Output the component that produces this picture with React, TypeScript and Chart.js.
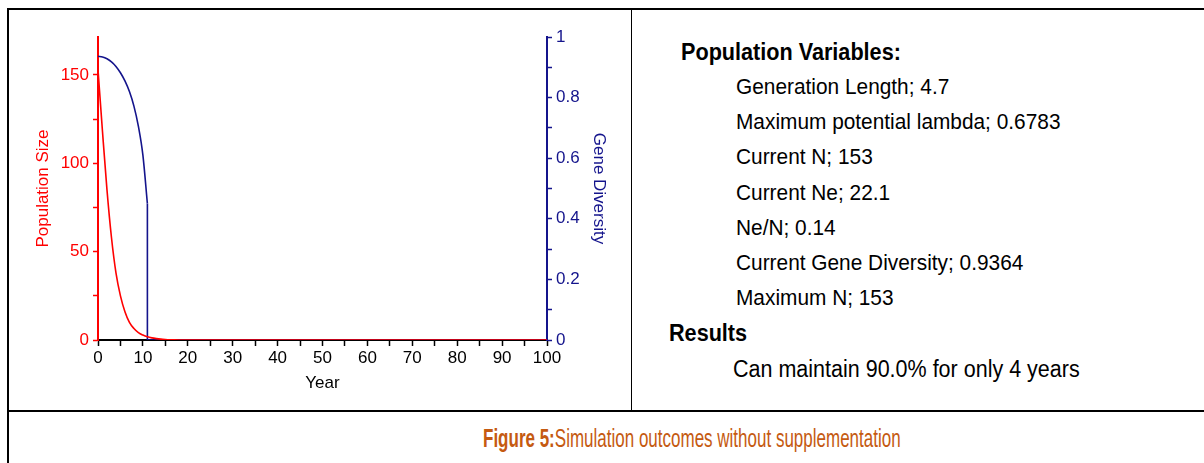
import React, { useEffect, useRef } from 'react';
import { Chart, registerables } from 'chart.js';

Chart.register(...registerables);

// ---- Data ----
const popYears = [0, 1, 2, 3, 4, 5, 6, 7, 8, 9, 10, 11, 12, 13, 14, 15, 16, 17, 18, 100];
const popSize = [153, 118, 85, 58, 38, 25, 16, 10, 6.5, 4.2, 2.8, 1.8, 1.2, 0.8, 0.5, 0.3, 0.15, 0.05, 0, 0];

const geneYears = [0, 1, 2, 3, 4, 5, 6, 7, 8, 9, 10, 11];
const geneDiv = [0.9364, 0.934, 0.928, 0.918, 0.903, 0.882, 0.855, 0.82, 0.772, 0.705, 0.61, 0.45];
// extinction: diversity drops to zero at year 11 and stays there
const geneTailYears = [11, 11, 100];
const geneTailDiv = [0.45, 0, 0];

const xTickStep = 5;
const xLabelEvery = 10;
const popTickStep = 25;
const popLabelEvery = 50;
const popMax = 171.5;
const geneTickStep = 0.1;

const variableLines = [
  'Generation Length; 4.7',
  'Maximum potential lambda; 0.6783',
  'Current N; 153',
  'Current Ne; 22.1',
  'Ne/N; 0.14',
  'Current Gene Diversity; 0.9364',
  'Maximum N; 153',
];
const resultLine = 'Can maintain 90.0% for only 4 years';

const RED = '#ff0000';
const NAVY = '#14148c';
const FONT = '"Liberation Sans", Arial, Helvetica, sans-serif';

const toPoints = (xs: number[], ys: number[]) => xs.map((x, i) => ({ x, y: ys[i] }));

function ChartPanel() {
  const ref = useRef<HTMLCanvasElement | null>(null);
  useEffect(() => {
    if (!ref.current) return;
    Chart.defaults.font.family = FONT;
    const chart = new Chart(ref.current, {
      type: 'line',
      data: {
        datasets: [
          {
            label: 'Population Size',
            data: toPoints(popYears, popSize),
            yAxisID: 'y',
            borderColor: RED,
            borderWidth: 1.6,
            pointRadius: 0,
            cubicInterpolationMode: 'monotone',
            fill: false,
          },
          {
            label: 'Gene Diversity',
            data: toPoints(geneYears, geneDiv),
            yAxisID: 'y1',
            borderColor: NAVY,
            borderWidth: 1.6,
            pointRadius: 0,
            cubicInterpolationMode: 'monotone',
            fill: false,
          },
          {
            label: 'Gene Diversity (extinct)',
            data: toPoints(geneTailYears, geneTailDiv),
            yAxisID: 'y1',
            borderColor: NAVY,
            borderWidth: 1.6,
            pointRadius: 0,
            tension: 0,
            fill: false,
          },
        ],
      },
      options: {
        animation: false,
        responsive: false,
        devicePixelRatio: 1,
        layout: { padding: { top: 27, left: 0, right: 0, bottom: 0 } },
        plugins: { legend: { display: false }, tooltip: { enabled: false } },
        scales: {
          x: {
            type: 'linear',
            position: 'bottom',
            min: 0,
            max: 100,
            afterFit: (s: any) => { s.height = 70; },
            ticks: {
              stepSize: xTickStep,
              autoSkip: false,
              maxRotation: 0,
              padding: 2,
              color: '#000',
              font: { size: 17 },
              callback: (v: any) => (Math.round(v) % xLabelEvery === 0 ? String(v) : ''),
            },
            grid: { drawOnChartArea: false, drawTicks: true, tickLength: 6, tickColor: '#000', tickWidth: 1.5 },
            border: { color: '#000', width: 2 },
            title: { display: true, text: 'Year', color: '#000', font: { size: 17 }, padding: { top: 0, bottom: 16 } },
          },
          y: {
            type: 'linear',
            position: 'left',
            min: 0,
            max: popMax,
            afterFit: (s: any) => { s.width = 88; },
            ticks: {
              stepSize: popTickStep,
              includeBounds: false,
              autoSkip: false,
              padding: 4,
              color: RED,
              font: { size: 17 },
              callback: (v: any) => (Math.round(v) % popLabelEvery === 0 ? String(v) : ''),
            },
            grid: { drawOnChartArea: false, drawTicks: true, tickLength: 5, tickColor: RED, tickWidth: 1.5 },
            border: { color: RED, width: 2 },
            title: { display: true, text: 'Population Size', color: RED, font: { size: 17 }, padding: { top: 23, bottom: 0 } },
          },
          y1: {
            type: 'linear',
            position: 'right',
            min: 0,
            max: 1,
            afterFit: (s: any) => { s.width = 83; },
            ticks: {
              stepSize: geneTickStep,
              autoSkip: false,
              padding: 4,
              color: NAVY,
              font: { size: 17 },
              callback: (v: any) => {
                const t = Math.round(v * 10);
                return t % 2 === 0 ? String(t / 10) : '';
              },
            },
            grid: { drawOnChartArea: false, drawTicks: true, tickLength: 5, tickColor: NAVY, tickWidth: 1.5 },
            border: { color: NAVY, width: 2 },
            title: { display: true, text: 'Gene Diversity', color: NAVY, font: { size: 17 }, padding: { top: 21, bottom: 0 } },
          },
        },
      },
    });
    return () => chart.destroy();
  }, []);
  return (
    <canvas
      ref={ref}
      width={620}
      height={400}
      style={{ position: 'absolute', left: 10, top: 10, width: 620, height: 400 }}
    />
  );
}

const line = (left: number, top: number, width: number, height: number) => (
  <div style={{ position: 'absolute', left, top, width, height, background: '#000' }} />
);

export default function App() {
  const textBase: React.CSSProperties = {
    position: 'absolute',
    fontFamily: FONT,
    fontSize: 22.3,
    lineHeight: '26px',
    color: '#000',
    whiteSpace: 'nowrap',
    transformOrigin: 'left center',
    transform: 'scaleX(0.935)',
  };
  return (
    <div style={{ position: 'absolute', left: 0, top: 0, width: 1204, height: 463, background: '#fff', overflow: 'hidden' }}>
      {line(7, 8, 1197, 2)}
      {line(7, 8, 2, 455)}
      {line(7, 410, 1197, 2)}
      {line(631, 8, 1, 403)}
      <ChartPanel />
      <div style={{ ...textBase, left: 681, top: 52 - 13, fontWeight: 'bold', fontSize: 23, transform: 'scaleX(0.94)' }}>Population Variables:</div>
      {variableLines.map((t, i) => (
        <div key={t} style={{ ...textBase, left: 736, top: 87 + i * 35.2 - 13 }}>{t}</div>
      ))}
      <div style={{ ...textBase, left: 669, top: 333 - 13, fontWeight: 'bold', fontSize: 23, transform: 'scaleX(0.94)' }}>Results</div>
      <div style={{ ...textBase, left: 733, top: 369 - 13, fontSize: 23 }}>{resultLine}</div>
      <div
        style={{
          position: 'absolute',
          left: 483,
          top: 438 - 15,
          fontFamily: FONT,
          fontSize: 25,
          lineHeight: '30px',
          color: '#c55a11',
          whiteSpace: 'nowrap',
          transformOrigin: 'left center',
          transform: 'scaleX(0.68)',
        }}
      >
        <b>Figure 5:</b>Simulation outcomes without supplementation
      </div>
    </div>
  );
}
